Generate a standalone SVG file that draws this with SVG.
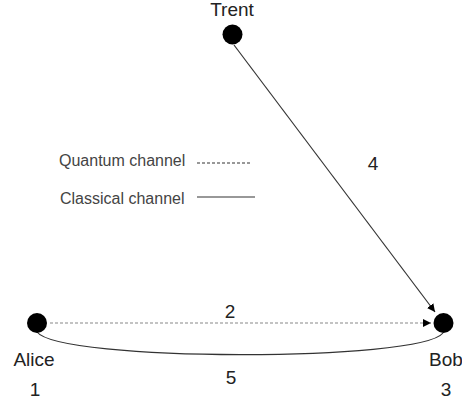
<svg xmlns="http://www.w3.org/2000/svg" width="462" height="402" viewBox="0 0 462 402">
<style>
text{font-family:"Liberation Sans",Arial,sans-serif;fill:#222}
.lbl{font-size:19px;text-anchor:middle}
.leg{font-size:16px;fill:#444}
.node{fill:#000}
.solid{stroke:#333;stroke-width:1.2;fill:none}
.dash{stroke:#888;stroke-width:1.2;fill:none;stroke-dasharray:3 2}
</style>
<defs>
<marker id="ah" viewBox="0 0 10 10" refX="10" refY="5" markerWidth="8" markerHeight="8" markerUnits="userSpaceOnUse" orient="auto">
<path d="M0,0 L10,5 L0,10 z" fill="#000"/>
</marker>
</defs>
<rect width="462" height="402" fill="#fff"/>
<g id="connectors">
<line class="solid" x1="234" y1="45" x2="435" y2="312" marker-end="url(#ah)"/>
<line class="dash" x1="50" y1="323" x2="431" y2="323" marker-end="url(#ah)"/>
<path class="solid" d="M37,332 C60,362 420,362 443,333"/>
<text class="lbl" x="373" y="170">4</text>
<text class="lbl" x="230" y="318">2</text>
<text class="lbl" x="231" y="384">5</text>
</g>
<g id="trent">
<circle class="node" cx="232.5" cy="34.5" r="10"/>
<text class="lbl" x="232" y="16">Trent</text>
</g>
<g id="alice">
<circle class="node" cx="37" cy="323" r="10"/>
<text class="lbl" x="34" y="366">Alice</text>
<text class="lbl" x="35" y="396">1</text>
</g>
<g id="bob">
<circle class="node" cx="443.5" cy="323" r="10"/>
<text class="lbl" x="446" y="366">Bob</text>
<text class="lbl" x="446" y="396">3</text>
</g>
<g id="legend">
<text class="leg" x="59" y="166">Quantum channel</text>
<line class="dash" x1="197" y1="163" x2="252" y2="163" style="stroke:#333;stroke-dasharray:3 2"/>
<text class="leg" x="60" y="204">Classical channel</text>
<line class="solid" x1="197" y1="197" x2="255" y2="197"/>
</g>
</svg>
